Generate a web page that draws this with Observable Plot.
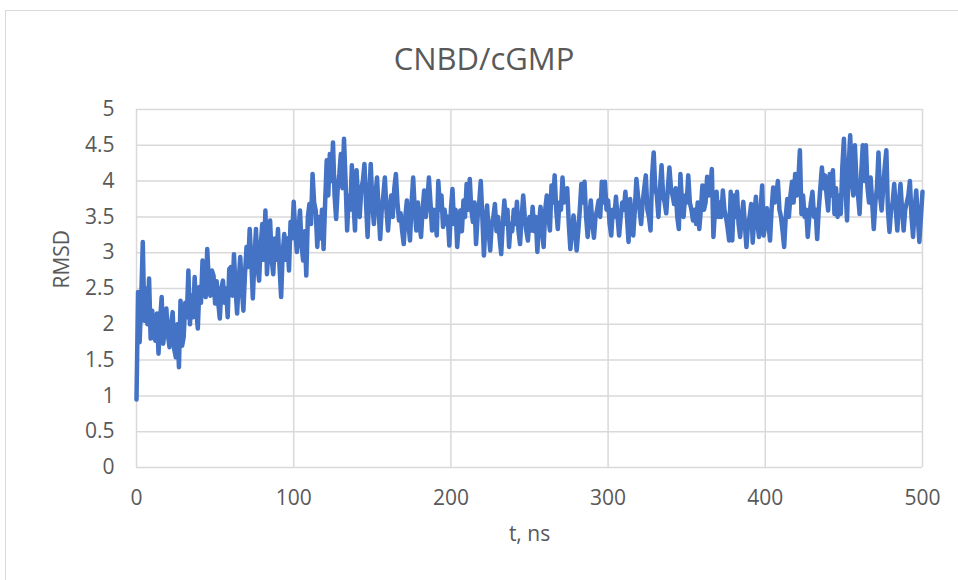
<!DOCTYPE html>
<html>
<head>
<meta charset="utf-8">
<script src="https://cdn.jsdelivr.net/npm/d3@7"></script>
<script src="https://cdn.jsdelivr.net/npm/@observablehq/plot@0.6"></script>
<style>
  html, body { margin: 0; padding: 0; background: #fff; width: 958px; height: 580px; overflow: hidden; }
  #frame { position: absolute; left: 5px; top: 10px; width: 958px; height: 580px; border: 1px solid #d9d9d9; box-sizing: border-box; }
  #title { position: absolute; left: 5px; top: 37px; width: 958px; text-align: center; font-family: "Open Sans", sans-serif; font-size: 31px; line-height: 42px; color: #595959; }
  #chart { position: absolute; left: 0; top: 0; }
</style>
</head>
<body>
<div id="frame"></div>
<div id="chart"></div>
<div id="title">CNBD/cGMP</div>
<script>
const chartTitle = "CNBD/cGMP";
const xLabel = "t, ns";
const yLabel = "RMSD";
const xTicks = [0, 100, 200, 300, 400, 500];
const yTicks = [0, 0.5, 1, 1.5, 2, 2.5, 3, 3.5, 4, 4.5, 5];
const rmsd = [
  0.95,2.45,1.75,2.35,3.15,2.05,2.5,2.0,2.64,1.8,
  2.19,1.85,1.77,2.15,1.59,2.05,2.38,1.73,1.95,2.22,
  1.85,1.68,2.0,2.17,1.65,1.54,2.0,1.40,2.33,1.7,
  1.82,2.3,2.1,2.75,2.0,2.4,2.1,2.66,2.2,1.94,
  2.52,2.3,2.89,2.5,2.38,3.05,2.6,2.4,2.75,2.68,
  2.29,2.6,2.3,2.08,2.5,2.61,2.3,2.5,2.1,2.77,
  2.8,2.4,2.98,2.5,2.15,2.6,2.94,2.5,2.19,2.7,
  3.08,2.8,3.33,2.9,2.36,2.9,3.33,2.8,2.61,3.1,
  3.4,2.9,3.59,2.7,3.1,3.45,2.9,2.7,3.2,2.9,
  3.33,2.8,2.38,3.0,3.26,2.9,3.2,2.75,3.43,3.2,
  3.71,3.3,3.01,3.3,3.59,3.1,2.89,3.3,2.68,3.5,
  3.68,3.4,4.1,3.7,3.59,3.08,3.5,3.2,3.6,3.05,
  3.7,4.29,3.8,4.38,4.0,4.54,3.8,3.47,3.9,4.1,
  4.38,3.9,4.59,4.0,3.31,3.8,3.6,4.22,3.7,3.31,
  4.15,3.7,3.5,3.9,4.0,4.24,3.7,3.22,3.8,4.24,
  3.7,3.4,3.8,4.05,3.6,3.19,3.6,3.8,4.05,3.6,
  3.31,3.6,3.8,3.5,3.9,4.1,3.7,3.45,3.55,3.3,
  3.12,3.5,3.73,3.4,3.17,3.7,4.05,3.6,3.31,3.7,
  3.4,3.22,3.6,3.87,3.5,3.7,4.05,3.7,3.31,3.6,
  3.5,3.24,4.0,3.6,3.8,3.36,3.6,3.4,3.5,3.10,
  3.6,3.89,3.4,3.6,3.08,3.4,3.59,3.3,3.73,3.5,
  3.96,3.6,4.03,3.6,3.43,3.7,3.12,3.5,3.7,4.0,
  3.5,2.96,3.4,3.66,3.3,3.03,3.4,3.5,3.68,3.3,
  3.5,3.2,2.98,3.4,3.73,3.4,3.6,3.08,3.4,3.3,
  3.6,3.4,3.71,3.3,3.12,3.5,3.8,3.5,3.3,3.17,
  3.5,3.31,3.64,3.3,3.5,3.01,3.4,3.64,3.3,3.08,
  3.6,3.8,3.5,3.31,3.94,3.7,4.08,3.6,3.33,3.7,
  3.6,4.05,3.7,3.8,3.9,3.4,3.05,3.3,3.52,3.3,
  3.03,3.3,3.6,3.96,3.7,3.99,3.5,3.22,3.5,3.73,
  3.4,3.21,3.5,3.6,3.73,3.5,3.99,3.7,3.99,3.6,
  3.73,3.4,3.24,3.6,3.5,3.78,3.5,3.24,3.5,3.7,
  3.6,3.85,3.5,3.15,3.75,3.5,3.24,3.6,4.03,3.8,
  3.6,3.40,3.7,3.9,4.08,3.6,3.5,3.31,4.08,4.40,
  3.9,3.8,3.50,3.9,4.22,3.8,3.7,3.55,3.9,4.19,
  3.9,3.8,3.68,3.9,3.5,3.33,4.10,3.7,3.5,3.8,
  3.7,4.08,3.7,3.6,3.45,3.6,3.4,3.7,3.33,3.6,
  3.94,3.6,3.7,4.06,3.8,3.9,4.17,3.22,3.6,3.85,
  3.5,3.7,3.5,3.87,3.6,3.5,3.35,3.17,3.85,3.17,
  3.80,3.5,3.85,3.4,3.22,3.5,3.71,3.4,3.08,3.4,
  3.5,3.68,3.14,3.5,3.78,3.4,3.22,3.6,3.94,3.24,
  3.4,3.62,3.4,3.17,3.6,3.91,3.7,3.8,4.0,3.6,
  3.5,3.3,3.08,3.5,3.75,3.5,3.8,3.99,3.7,4.10,
  3.8,4.0,4.43,3.54,3.8,3.5,3.6,3.22,3.5,3.7,
  3.85,3.5,3.6,3.19,3.6,3.9,4.19,3.9,4.08,3.8,
  3.59,4.10,3.8,4.15,3.54,3.9,3.5,3.8,3.54,4.2,
  4.59,3.9,3.45,4.2,4.64,4.0,3.8,4.50,4.0,3.8,
  3.54,4.1,4.50,4.0,4.50,3.91,3.7,4.05,3.7,3.33,
  3.7,3.9,4.40,3.8,3.59,3.9,4.2,4.43,3.6,3.29,
  3.6,3.7,3.96,3.6,3.31,3.7,3.96,3.6,3.31,3.6,
  3.7,3.8,4.0,3.5,3.22,3.6,3.87,3.5,3.15,3.5,
  3.85
];
const timeNs = rmsd.map((_, i) => i);

const data = timeNs.map((t, i) => ({t, v: rmsd[i]}));
const grey = "#595959";
const gridColor = "#d9d9d9";

const plot = Plot.plot({
  width: 958,
  height: 580,
  marginLeft: 136,
  marginRight: 36,
  marginTop: 109,
  marginBottom: 113,
  style: {fontFamily: "'Open Sans', sans-serif", fontSize: "21px", color: grey, background: "transparent", overflow: "visible"},
  x: {domain: [0, 500]},
  y: {domain: [0, 5]},
  marks: [
    Plot.gridY(yTicks, {stroke: gridColor, strokeOpacity: 1, strokeWidth: 1.5}),
    Plot.gridX(xTicks, {stroke: gridColor, strokeOpacity: 1, strokeWidth: 1.5}),
    Plot.axisY(yTicks, {tickSize: 0, tickPadding: 22, tickFormat: d => String(d), label: null, fill: grey}),
    Plot.axisX(xTicks, {tickSize: 0, tickPadding: 23, tickFormat: d => String(d), label: null, fill: grey}),
    Plot.lineY(data, {x: "t", y: "v", stroke: "#4472C4", strokeWidth: 4.5, strokeLinejoin: "round", strokeLinecap: "round"}),
    Plot.text([yLabel], {frameAnchor: "left", dx: -74, rotate: -90, fontSize: 21, fill: grey}),
    Plot.text([xLabel], {frameAnchor: "bottom", dy: 73, fontSize: 21, fill: grey})
  ]
});
document.getElementById("chart").appendChild(plot);
document.getElementById("title").textContent = chartTitle;
</script>
</body>
</html>
